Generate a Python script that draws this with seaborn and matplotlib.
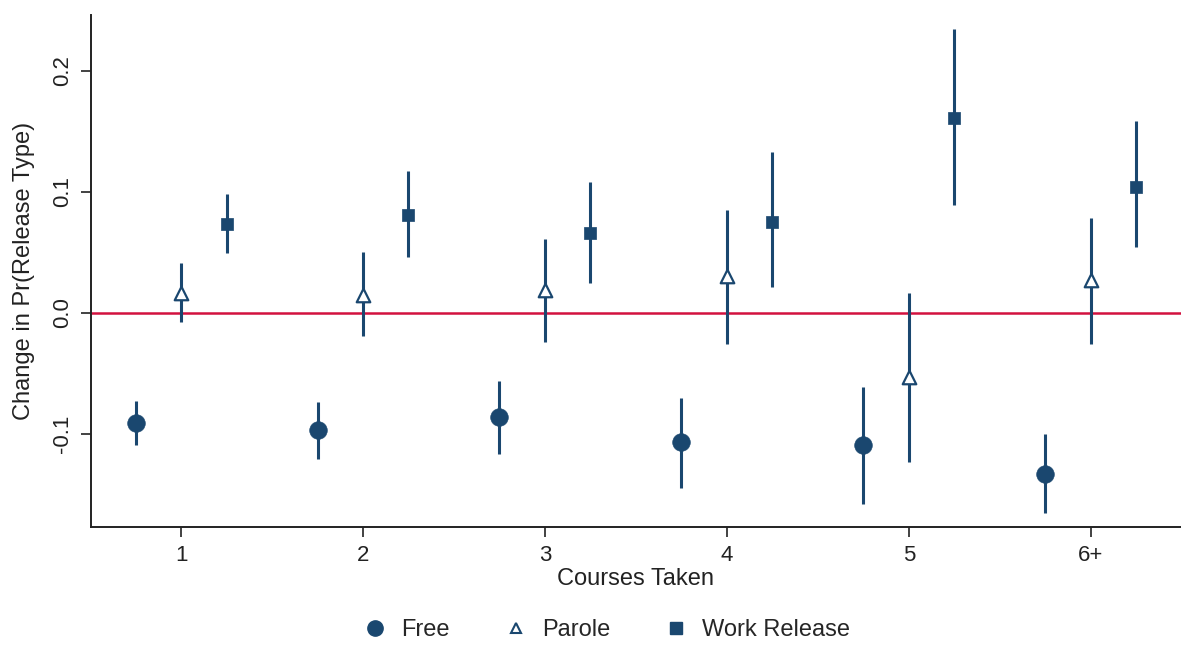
import numpy as np
import pandas as pd
import matplotlib
matplotlib.use("Agg")
import matplotlib.pyplot as plt
from matplotlib.lines import Line2D
import seaborn as sns

# Marginal effects by number of courses taken
courses = ["1", "2", "3", "4", "5", "6+"]

free_est = [-0.091, -0.097, -0.086, -0.107, -0.109, -0.133]
free_lo = [-0.109, -0.121, -0.117, -0.145, -0.158, -0.165]
free_hi = [-0.073, -0.074, -0.056, -0.070, -0.061, -0.100]

parole_est = [0.016, 0.015, 0.019, 0.030, -0.053, 0.027]
parole_lo = [-0.008, -0.019, -0.024, -0.026, -0.123, -0.026]
parole_hi = [0.041, 0.050, 0.061, 0.085, 0.016, 0.078]

work_est = [0.073, 0.081, 0.066, 0.075, 0.161, 0.104]
work_lo = [0.049, 0.046, 0.025, 0.021, 0.089, 0.054]
work_hi = [0.098, 0.117, 0.108, 0.133, 0.234, 0.158]

series = ["Free", "Parole", "Work Release"]
offsets = {"Free": -0.25, "Parole": 0.0, "Work Release": 0.25}

rows = []
for name, est, lo, hi in [("Free", free_est, free_lo, free_hi),
                          ("Parole", parole_est, parole_lo, parole_hi),
                          ("Work Release", work_est, work_lo, work_hi)]:
    for i, c in enumerate(courses):
        rows.append({"series": name, "course": c, "pos": i + 1 + offsets[name],
                     "est": est[i], "lo": lo[i], "hi": hi[i]})
df = pd.DataFrame(rows)

sns.set_theme(style="ticks")
plt.rcParams["font.family"] = ["Liberation Sans", "DejaVu Sans"]

navy = "#1a476f"
ink = "#222222"
fig = plt.figure(figsize=(11.81, 6.46), dpi=100)
ax = fig.add_axes([0.077, 0.184, 0.923, 0.793])

# zero reference line
ax.axhline(0, color="#d2113f", lw=1.8, zorder=1)

# confidence intervals
ax.vlines(df["pos"], df["lo"], df["hi"], color=navy, lw=2.2, zorder=2)

markers = {"Free": "o", "Parole": "^", "Work Release": "s"}
sizes = {"Free": 160, "Parole": 95, "Work Release": 85}
for name in series:
    sub = df[df["series"] == name]
    if name == "Parole":
        sns.scatterplot(data=sub, x="pos", y="est", marker="^", s=sizes[name],
                        facecolor="white", edgecolor=navy, linewidth=1.6,
                        ax=ax, zorder=3, legend=False)
    else:
        sns.scatterplot(data=sub, x="pos", y="est", marker=markers[name],
                        s=sizes[name], color=navy, edgecolor=navy, linewidth=0.5,
                        ax=ax, zorder=3, legend=False)

ax.set_xlim(0.505, 6.495)
ax.set_ylim(-0.177, 0.246)
ax.set_xticks(np.arange(1, len(courses) + 1))
ax.set_xticklabels(courses)
ax.set_yticks([-0.1, 0.0, 0.1, 0.2])
ax.set_yticklabels(["-0.1", "0.0", "0.1", "0.2"], rotation=90, va="center")
ax.tick_params(axis="both", direction="out", length=7, width=1.2,
               labelsize=16, colors=ink)
ax.tick_params(axis="x", pad=6)
ax.tick_params(axis="y", pad=6)
ax.set_xlabel("Courses Taken", fontsize=17, color=ink, labelpad=1)
ax.set_ylabel("Change in Pr(Release Type)", fontsize=17, color=ink, labelpad=12)

sns.despine(ax=ax)
for sp in ("left", "bottom"):
    ax.spines[sp].set_linewidth(1.4)
    ax.spines[sp].set_color(ink)

handles = [
    Line2D([], [], marker="o", ls="", color=navy, markersize=11),
    Line2D([], [], marker="^", ls="", markerfacecolor="white",
           markeredgecolor=navy, markeredgewidth=1.5, markersize=7),
    Line2D([], [], marker="s", ls="", color=navy, markersize=8),
]
fig.legend(handles, series, loc="center", bbox_to_anchor=(0.513, 0.025),
           ncol=3, frameon=False, fontsize=17, handletextpad=0.5,
           columnspacing=2.2, handlelength=1.2)

fig.savefig("out.png", dpi=100, facecolor="white")
